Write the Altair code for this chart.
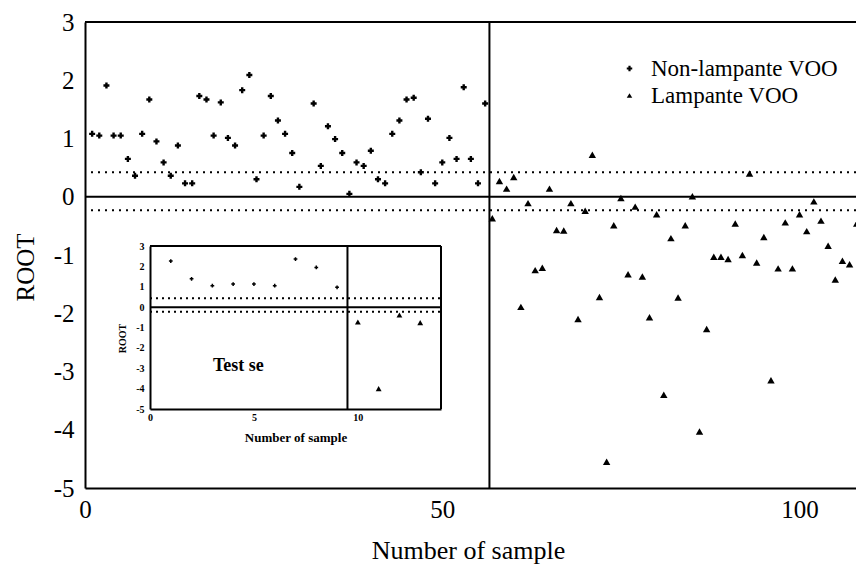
import altair as alt
import pandas as pd

# ---------------- data ----------------
groups = ["Non-lampante VOO", "Lampante VOO"]

nl_x = list(range(1, 31)) + list(range(32, 57))
nl_y = [1.08, 1.05, 1.91, 1.05, 1.05, 0.65, 0.36, 1.08, 1.67, 0.95,
        0.59, 0.36, 0.88, 0.23, 0.23, 1.73, 1.67, 1.05, 1.62, 1.01,
        0.88, 1.83, 2.09, 0.30, 1.05, 1.73, 1.31, 1.08, 0.75, 0.17,
        1.60, 0.53, 1.21, 0.99, 0.75, 0.05, 0.59, 0.53, 0.79, 0.30,
        0.23, 1.08, 1.31, 1.67, 1.70, 0.42, 1.34, 0.23, 0.59, 1.01,
        0.65, 1.88, 0.65, 0.23, 1.60]

l_x = list(range(57, 109))
l_y = [-0.37, 0.27, 0.14, 0.34, -1.89, -0.11, -1.26, -1.22, 0.14, -0.57,
       -0.58, -0.11, -2.10, -0.24, 0.72, -1.72, -4.55, -0.49, -0.02, -1.33,
       -0.17, -1.37, -2.07, -0.30, -3.40, -0.71, -1.73, -0.49, 0.01, -4.03,
       -2.27, -1.03, -1.03, -1.07, -0.46, -1.00, 0.40, -1.13, -0.69, -3.15,
       -1.23, -0.44, -1.23, -0.30, -0.59, -0.08, -0.41, -0.84, -1.42, -1.10,
       -1.16, -0.46]

inset_nl_x = [1, 2, 3, 4, 5, 6, 7, 8, 9]
inset_nl_y = [2.26, 1.39, 1.05, 1.13, 1.13, 1.05, 2.36, 1.95, 0.97]
inset_l_x = [10, 11, 12, 13]
inset_l_y = [-0.73, -4.00, -0.39, -0.76]

main_x_domain = [0, 107.9]
y_domain = [-5, 3]
main_cuts = [0.42, -0.23]
main_split = 56.6
inset_x_domain = [0, 14]
inset_cuts = [0.43, -0.23]
inset_split = 9.5
x_ticks = [0, 50, 100]
inset_x_ticks = [0, 5, 10]
y_ticks = [-5, -4, -3, -2, -1, 0, 1, 2, 3]

SERIF = "Liberation Serif"
PLAIN_LABEL = "'' + datum.value"

# ---------------- main panel ----------------
nl_df = pd.DataFrame({"x": nl_x, "y": nl_y, "group": [groups[0]] * len(nl_x)})
l_df = pd.DataFrame({"x": l_x, "y": l_y, "group": [groups[1]] * len(l_x)})

x_axis = alt.Axis(values=x_ticks, orient="bottom", ticks=False, grid=False,
                  domainColor="black", domainWidth=2, labelFlush=False, labelExpr=PLAIN_LABEL,
                  labelFont=SERIF, labelFontSize=25, labelColor="black", labelPadding=9,
                  title="Number of sample", titleFont=SERIF, titleFontSize=26,
                  titleFontWeight="normal", titleColor="black", titleX=383, titleY=70,
                  titleAlign="center", titleBaseline="alphabetic")
y_axis = alt.Axis(values=y_ticks, orient="left", ticks=False, grid=False,
                  domainColor="black", domainWidth=2, labelFlush=False, labelExpr=PLAIN_LABEL,
                  labelFont=SERIF, labelFontSize=25, labelColor="black", labelPadding=11,
                  title="ROOT", titleFont=SERIF, titleFontSize=25, titleFontWeight="normal",
                  titleColor="black", titleAngle=270, titleX=-60, titleY=245,
                  titleAlign="center", titleBaseline="middle")

xs = alt.Scale(domain=main_x_domain, nice=False, zero=False)
ys = alt.Scale(domain=y_domain, nice=False, zero=False)

def MX(f):
    return alt.X(f, type="quantitative", scale=xs, axis=x_axis)

def MY(f):
    return alt.Y(f, type="quantitative", scale=ys, axis=y_axis)

legend = alt.Legend(orient="none", legendX=533, legendY=35, title=None,
                    labelFont=SERIF, labelFontSize=23, labelColor="black", labelLimit=400,
                    symbolFillColor="black", symbolStrokeColor="black",
                    symbolSize=30, labelOffset=10, rowPadding=3, padding=0)

shape_enc = alt.Shape("group:N", scale=alt.Scale(domain=groups, range=["cross", "triangle-up"]),
                      legend=legend)

points_nl = alt.Chart(nl_df).mark_point(filled=True, color="black", opacity=1, size=36).encode(
    x=MX("x"), y=MY("y"), shape=shape_enc)
points_l = alt.Chart(l_df).mark_point(filled=True, color="black", opacity=1, size=55).encode(
    x=MX("x"), y=MY("y"), shape=shape_enc)

zero_rule = alt.Chart(pd.DataFrame({"y": [0]})).mark_rule(color="black", strokeWidth=2).encode(y=MY("y"))
top_rule = alt.Chart(pd.DataFrame({"y": [y_domain[1]]})).mark_rule(color="black", strokeWidth=2).encode(y=MY("y"))
dot_rules = alt.Chart(pd.DataFrame({"y": main_cuts})).mark_rule(
    color="black", strokeWidth=2, strokeDash=[2, 5]).encode(y=MY("y"))
split_rule = alt.Chart(pd.DataFrame({"x": [main_split]})).mark_rule(color="black", strokeWidth=2).encode(x=MX("x"))

main = alt.layer(zero_rule, top_rule, dot_rules, split_rule, points_nl, points_l)

# ---------------- inset panel ----------------
ixs = alt.Scale(domain=inset_x_domain, nice=False, zero=False, range=[65, 356])
iys = alt.Scale(domain=y_domain, nice=False, zero=False, range=[387, 224])

ix_axis = alt.Axis(values=inset_x_ticks, orient="bottom", offset=-79, ticks=False,
                   grid=False, domainColor="black", domainWidth=2, labelFlush=False,
                   labelExpr=PLAIN_LABEL,
                   labelFont=SERIF, labelFontSize=10, labelFontWeight="bold", labelColor="black",
                   labelPadding=3, title="Number of sample", titleFont=SERIF, titleFontSize=13,
                   titleFontWeight="bold", titleColor="black", titleY=28, titleBaseline="middle")
iy_axis = alt.Axis(values=y_ticks, orient="left", offset=-65, ticks=False,
                   grid=False, domainColor="black", domainWidth=2, labelFlush=False,
                   labelExpr=PLAIN_LABEL,
                   labelFont=SERIF, labelFontSize=10, labelFontWeight="bold", labelColor="black",
                   labelPadding=6, title="ROOT", titleFont=SERIF, titleFontSize=10,
                   titleFontWeight="bold", titleColor="black", titleAngle=270, titleX=-28,
                   titleY=316, titleAlign="center", titleBaseline="middle")

def IX(f):
    return alt.X(f, type="quantitative", scale=ixs, axis=ix_axis)

def IY(f):
    return alt.Y(f, type="quantitative", scale=iys, axis=iy_axis)

inset_nl = alt.Chart(pd.DataFrame({"x": inset_nl_x, "y": inset_nl_y})).mark_point(
    shape="cross", filled=True, color="black", size=14, opacity=1).encode(x=IX("x"), y=IY("y"))
inset_l = alt.Chart(pd.DataFrame({"x": inset_l_x, "y": inset_l_y})).mark_point(
    shape="triangle-up", filled=True, color="black", size=34, opacity=1).encode(x=IX("x"), y=IY("y"))

hl = pd.DataFrame({"x0": [inset_x_domain[0]] * 2, "x1": [inset_x_domain[1]] * 2,
                   "y": [0, y_domain[1]]})
inset_solid_h = alt.Chart(hl).mark_rule(color="black", strokeWidth=2).encode(
    x=IX("x0"), x2="x1", y=IY("y"))
dl = pd.DataFrame({"x0": [inset_x_domain[0]] * 2, "x1": [inset_x_domain[1]] * 2,
                   "y": inset_cuts})
inset_dot_h = alt.Chart(dl).mark_rule(color="black", strokeWidth=2, strokeDash=[2, 4]).encode(
    x=IX("x0"), x2="x1", y=IY("y"))
vl = pd.DataFrame({"x": [inset_split, inset_x_domain[1]],
                   "y0": [y_domain[0]] * 2, "y1": [y_domain[1]] * 2})
inset_v = alt.Chart(vl).mark_rule(color="black", strokeWidth=2).encode(
    x=IX("x"), y=IY("y0"), y2="y1")
inset_text = alt.Chart(pd.DataFrame({"x": [4.25], "y": [-2.9], "t": ["Test se"]})).mark_text(
    font=SERIF, fontSize=18, fontWeight="bold", color="black", align="center", baseline="middle"
).encode(x=IX("x"), y=IY("y"), text="t:N")

inset = alt.layer(inset_solid_h, inset_dot_h, inset_v, inset_text, inset_nl, inset_l)

chart = alt.layer(main, inset).resolve_scale(
    x="independent", y="independent"
).properties(
    width=771, height=466,
    padding={"left": 77, "top": 14, "right": 0, "bottom": 76},
    autosize=alt.AutoSizeParams(type="none"),
    background="white",
).configure_view(
    stroke="transparent"
).configure_legend(
    labelFont=SERIF, labelFontSize=23, labelLimit=400, labelColor="black"
)

chart.save("out.html", embed_options={"renderer": "svg", "actions": False})
